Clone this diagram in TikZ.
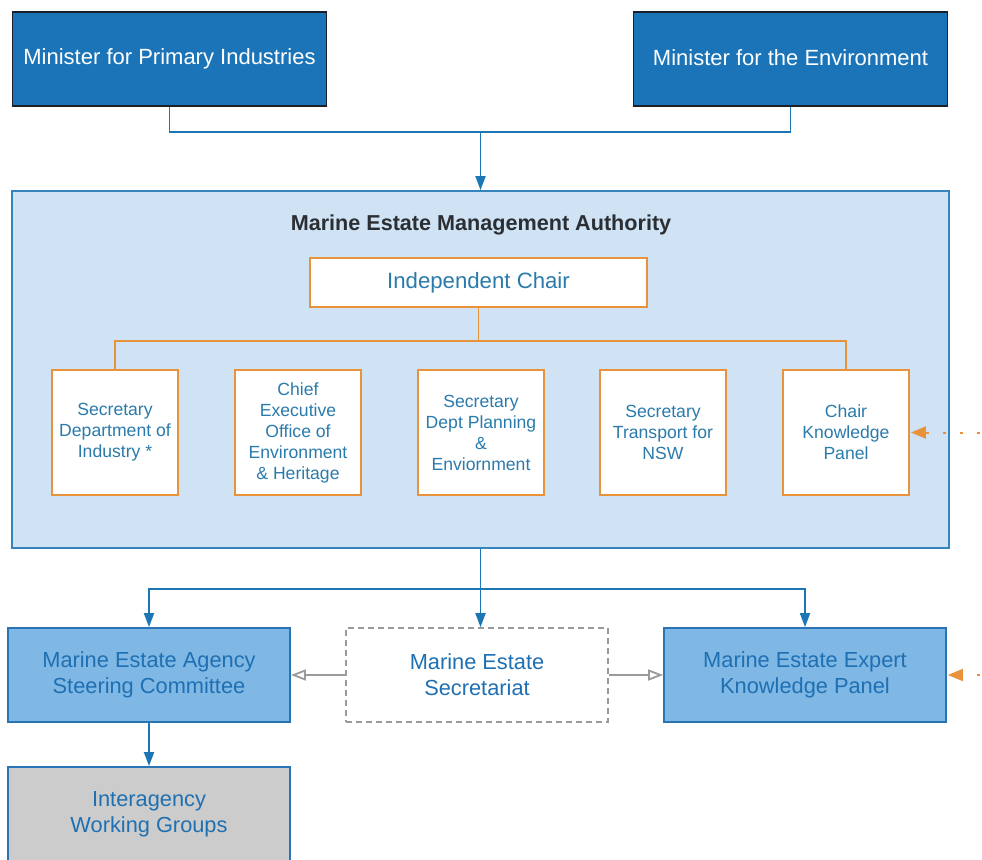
\documentclass[tikz,border=0pt]{standalone}
\usepackage{fontspec}
\setmainfont{Liberation Sans}
\usetikzlibrary{arrows.meta}

\definecolor{ministerblue}{HTML}{1B74B8}
\definecolor{ministerline}{HTML}{1A1F2B}
\definecolor{memafill}{HTML}{CFE3F4}
\definecolor{memaline}{HTML}{3585BC}
\definecolor{orgline}{HTML}{E8923C}
\definecolor{tealtext}{HTML}{2A7BAB}
\definecolor{paneltext}{HTML}{1F70B2}
\definecolor{panelfill}{HTML}{7FB7E5}
\definecolor{panelline}{HTML}{2874B5}
\definecolor{linkblue}{HTML}{1C76B6}
\definecolor{greyfill}{HTML}{CCCCCC}
\definecolor{greyline}{HTML}{9A9A9A}
\definecolor{titletext}{HTML}{2B2F33}

\tikzset{
  minister/.style={draw=ministerline, line width=1.8pt, fill=ministerblue,
    text=white, minimum width=314pt, minimum height=94pt,
    font=\fontsize{22}{26}\selectfont, inner sep=0pt},
  authority/.style={draw=memaline, line width=1.8pt, fill=memafill,
    minimum width=937pt, minimum height=357pt, inner sep=0pt},
  chairbox/.style={draw=orgline, line width=1.8pt, fill=white, text=tealtext,
    minimum width=337pt, minimum height=49pt,
    font=\fontsize{22.2}{26}\selectfont, inner sep=0pt},
  member/.style={draw=orgline, line width=1.8pt, fill=white, text=tealtext,
    minimum width=126pt, minimum height=125pt, align=center,
    font=\fontsize{17.6}{21}\selectfont, inner sep=0pt},
  panel/.style={draw=panelline, line width=1.8pt, fill=panelfill, text=paneltext,
    minimum width=282pt, minimum height=94pt, align=center,
    font=\fontsize{21.8}{26}\selectfont, inner sep=0pt},
  secbox/.style={draw=greyline, line width=1.6pt, dash pattern=on 6pt off 4pt,
    fill=white, text=paneltext, minimum width=262pt, minimum height=94pt,
    align=center, font=\fontsize{21.8}{26}\selectfont, inner sep=0pt},
  groupbox/.style={panel, fill=greyfill},
  bluelink/.style={draw=linkblue, line width=1.8pt},
  bluearrow/.style={bluelink, -{Triangle[width=10pt,length=14pt]}},
  orglink/.style={draw=orgline, line width=1.8pt},
  orgdotted/.style={draw=orgline, line width=2pt, dash pattern=on 3pt off 14pt,
    -{Triangle[width=12pt,length=15pt]}, shorten >=1pt},
  greyarrow/.style={draw=greyline, line width=1.8pt,
    -{Triangle[open,width=11pt,length=15pt]}},
}

\begin{document}
\begin{tikzpicture}[x=1pt, y=-1pt]
  \useasboundingbox (0,0) rectangle (982,859);
  \clip (0,0) rectangle (982,859);

  % ministers
  \node[minister] (mpi)  at (169.5,59) {\raisebox{2pt}{Minister for Primary Industries}};
  \node[minister] (menv) at (790.5,59) {\raisebox{2pt}{Minister for the Environment}};

  % the authority and its members
  \node[authority] (mema) at (480.5,369.5) {};
  \node[font=\bfseries\fontsize{21.6}{25}\selectfont, text=titletext] (title)
    at (481,225) {Marine Estate Management Authority};
  \node[chairbox] (chair) at (478.5,282.5) {Independent Chair};

  \node[member] (m1) at (115,432.5) {Secretary\\Department of\\Industry *};
  \node[member] (m2) at (298,432.5) {Chief\\Executive\\Office of\\Environment\\\& Heritage};
  \node[member] (m3) at (481,432.5) {Secretary\\Dept Planning\\\&\\Enviornment};
  \node[member] (m4) at (663,432.5) {Secretary\\Transport for\\NSW};
  \node[member] (m5) at (846,432.5) {Chair\\Knowledge\\Panel};

  % supporting bodies
  \node[panel]    (agency) at (149,675) {Marine Estate Agency\\Steering Committee};
  \node[secbox]   (sec)    at (477,675) {Marine Estate\\Secretariat};
  \node[panel]    (expert) at (805,675) {Marine Estate Expert\\Knowledge Panel};
  \node[groupbox] (groups) at (149,814) {Interagency\\Working Groups};

  % ministers to authority
  \draw[bluelink] (mpi.south) -- ++(0,25) coordinate (mjoin) -| (menv.south);
  \draw[bluearrow] (mjoin -| mema.north) -- (mema.north);

  % chair to members
  \draw[orglink] (chair.south) -- ++(0,33) coordinate (cjoin);
  \draw[orglink] (m1.north) |- (cjoin) -| (m5.north);

  % authority to supporting bodies
  \draw[bluelink] (mema.south) -- ++(0,40) coordinate (bjoin);
  \draw[bluearrow] (bjoin) -| (agency.north);
  \draw[bluearrow] (bjoin) -| (expert.north);
  \draw[bluearrow] (bjoin) -- (bjoin |- sec.north);
  \draw[bluearrow] (agency.south) -- (groups.north);

  % secretariat support
  \draw[greyarrow] (sec.west) -- (agency.east);
  \draw[greyarrow] (sec.east) -- (expert.east -| expert.west);

  % links from outside the frame
  \coordinate (extA) at (980,432.5);
  \coordinate (extB) at (980,675);
  \draw[orgdotted] (extA) -- (m5.east);
  \draw[orgdotted] (extB) -- (expert.east);
\end{tikzpicture}
\end{document}
